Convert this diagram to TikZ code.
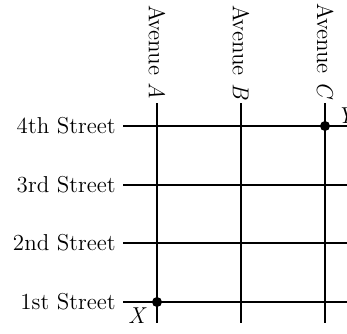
\documentclass[tikz,border=0pt]{standalone}
\begin{document}
\begin{tikzpicture}[x=0.5pt,y=-0.5pt,
  road/.style={line width=0.9pt},
  txt/.style={font=\fontsize{11.5}{13}\selectfont},
  stlabel/.style={txt,anchor=east,inner sep=0pt},
  avlabel/.style={txt,anchor=east,rotate=-90,inner sep=1.5pt},
  spot/.style={circle,fill=black,inner sep=0pt,minimum size=5pt}]
\useasboundingbox (0,0) rectangle (347,333);
% street labels
\node[stlabel] (s4) at (116,126) {4th Street};
\node[stlabel] (s3) at (116,185) {3rd Street};
\node[stlabel] (s2) at (116,243) {2nd Street};
\node[stlabel] (s1) at (116,302) {1st Street};
\foreach \i/\y in {4/126,3/185,2/243,1/302}{
  \coordinate (e\i) at (360,\y);
  \coordinate (b\i) at (123,\y);
  \draw[road] (b\i) -- (e\i);
}
% avenue labels
\node[avlabel] (aA) at (157,103) {Avenue \textit{A}};
\node[avlabel] (aB) at (241,103) {Avenue \textit{B}};
\node[avlabel] (aC) at (325,103) {Avenue \textit{C}};
\coordinate (fA) at (157,323);
\coordinate (fB) at (241,323);
\coordinate (fC) at (325,323);
\draw[road] (aA.east) -- (fA);
\draw[road] (aB.east) -- (fB);
\draw[road] (aC.east) -- (fC);
% points
\node[spot] (X) at (157,302) {};
\node[spot] (Y) at (325,126) {};
\node[txt,anchor=north east,inner sep=0pt] (xl) at ([xshift=-3pt,yshift=-1pt]X.south west) {\textit{X}};
\node[txt,anchor=south west,inner sep=0pt] (yl) at ([xshift=4pt,yshift=-1pt]Y.north east) {\textit{Y}};
\end{tikzpicture}
\end{document}
